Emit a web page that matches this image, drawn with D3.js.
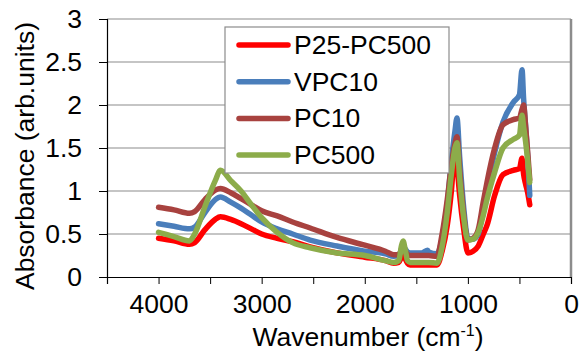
<!DOCTYPE html>
<html>
<head>
<meta charset="utf-8">
<script src="https://cdn.jsdelivr.net/npm/d3@7"></script>
<style>
  body { margin: 0; background: #fff; }
  text { font-family: "Liberation Sans", Arial, sans-serif; fill: #000; }
</style>
</head>
<body>
<script>
// wavenumbers shared by all four spectra (cm-1)
var wavenumbers = [4000, 3850, 3700, 3650, 3550, 3450, 3400, 3300, 3200, 3100, 3000, 2850, 2700, 2530, 2270, 2000, 1800, 1720, 1670, 1645, 1628, 1610, 1585, 1560, 1450, 1390, 1380, 1300, 1250, 1200, 1160, 1125, 1106, 1080, 1040, 1000, 950, 900, 850, 815, 740, 660, 560, 500, 475, 460, 440, 420, 400];

var p25pc500 = [0.45, 0.42, 0.38, 0.40, 0.55, 0.67, 0.70, 0.67, 0.62, 0.56, 0.50, 0.45, 0.41, 0.35, 0.28, 0.23, 0.19, 0.16, 0.17, 0.23, 0.27, 0.22, 0.16, 0.14, 0.14, 0.14, 0.14, 0.14, 0.30, 0.60, 1.00, 1.48, 1.30, 0.95, 0.55, 0.28, 0.30, 0.36, 0.50, 0.60, 0.95, 1.19, 1.24, 1.26, 1.38, 1.20, 1.08, 0.98, 0.84];
var vpc10 = [0.62, 0.59, 0.56, 0.58, 0.75, 0.90, 0.93, 0.87, 0.80, 0.72, 0.64, 0.56, 0.50, 0.43, 0.36, 0.30, 0.27, 0.24, 0.25, 0.32, 0.36, 0.33, 0.29, 0.28, 0.28, 0.31, 0.29, 0.27, 0.45, 0.85, 1.35, 1.70, 1.85, 1.40, 0.80, 0.45, 0.44, 0.50, 0.80, 1.03, 1.45, 1.80, 2.03, 2.12, 2.41, 2.08, 1.75, 1.40, 0.95];
var pc10 = [0.81, 0.78, 0.74, 0.76, 0.90, 1.01, 1.03, 0.98, 0.91, 0.84, 0.77, 0.71, 0.64, 0.57, 0.46, 0.37, 0.30, 0.26, 0.26, 0.32, 0.36, 0.31, 0.26, 0.25, 0.25, 0.25, 0.25, 0.24, 0.50, 0.90, 1.30, 1.55, 1.63, 1.25, 0.72, 0.43, 0.45, 0.55, 0.88, 1.10, 1.50, 1.77, 1.83, 1.85, 1.95, 2.00, 1.75, 1.45, 1.13];
var pc500 = [0.52, 0.47, 0.42, 0.50, 0.82, 1.12, 1.24, 1.12, 1.00, 0.84, 0.69, 0.52, 0.40, 0.34, 0.28, 0.25, 0.19, 0.17, 0.19, 0.36, 0.42, 0.33, 0.19, 0.17, 0.17, 0.17, 0.17, 0.16, 0.35, 0.75, 1.20, 1.50, 1.56, 1.15, 0.68, 0.43, 0.44, 0.52, 0.72, 0.90, 1.22, 1.50, 1.60, 1.65, 1.88, 1.75, 1.57, 1.35, 1.10];

var seriesNames = ['P25-PC500', 'VPC10', 'PC10', 'PC500'];
var seriesColors = ['#ff0000', '#4a7ebb', '#a8423f', '#8cac4a'];
var seriesValues = [p25pc500, vpc10, pc10, pc500];

var xTicks = [4000, 3000, 2000, 1000, 0];
var yTicks = [0, 0.5, 1, 1.5, 2, 2.5, 3];

var width = 581;
var height = 356;
// plot area edges (note: "top" is a reserved window global)
var plotL = 107, plotR = 571, plotT = 19, plotB = 277;
var fontSize = '26.5px';

var svg = d3.select('body').append('svg')
  .attr('width', width)
  .attr('height', height);

var x = d3.scaleLinear().domain([4500, 0]).range([plotL, plotR]);
var y = d3.scaleLinear().domain([0, 3]).range([plotB, plotT]);

// horizontal gridlines
svg.selectAll('.grid').data(yTicks.slice(1))
  .enter().append('line')
  .attr('x1', plotL).attr('x2', plotR)
  .attr('y1', function (d) { return y(d); })
  .attr('y2', function (d) { return y(d); })
  .attr('stroke', '#8c8c8c')
  .attr('stroke-width', 1.2);

// right border of plot area
svg.append('line')
  .attr('x1', plotR).attr('x2', plotR)
  .attr('y1', plotT).attr('y2', plotB)
  .attr('stroke', '#8c8c8c')
  .attr('stroke-width', 2.5);

// y axis
var yAxis = svg.append('g')
  .attr('transform', 'translate(' + plotL + ',0)')
  .call(d3.axisLeft(y).tickValues(yTicks).tickSize(8).tickPadding(17)
    .tickFormat(function (d) { return d; }));
yAxis.select('.domain').attr('stroke', '#000').attr('stroke-width', 1.2);
yAxis.selectAll('.tick line').attr('stroke', '#000');
yAxis.selectAll('text').style('font-size', fontSize)
  .style('font-family', '"Liberation Sans", Arial, sans-serif');

// x axis, ticks every 500, labels every 1000
var xAxis = svg.append('g')
  .attr('transform', 'translate(0,' + plotB + ')')
  .call(d3.axisBottom(x).tickValues(d3.range(4500, -1, -500)).tickSize(7).tickPadding(10)
    .tickFormat(function (d) { return xTicks.indexOf(d) >= 0 ? d : ''; }));
xAxis.select('.domain').attr('stroke', '#000').attr('stroke-width', 1.2);
xAxis.selectAll('.tick line').attr('stroke', '#000');
xAxis.selectAll('text').style('font-size', fontSize)
  .style('font-family', '"Liberation Sans", Arial, sans-serif');

// spectra
var line = d3.line()
  .x(function (d) { return x(d[0]); })
  .y(function (d) { return y(d[1]); })
  .curve(d3.curveMonotoneX);

seriesValues.forEach(function (vals, i) {
  svg.append('path')
    .datum(wavenumbers.map(function (w, j) { return [w, vals[j]]; }))
    .attr('fill', 'none')
    .attr('stroke', seriesColors[i])
    .attr('stroke-width', 5.5)
    .attr('stroke-linejoin', 'round')
    .attr('stroke-linecap', 'round')
    .attr('d', line);
});

// axis titles
var xt = svg.append('text')
  .attr('x', 368).attr('y', 346)
  .attr('text-anchor', 'middle')
  .style('font-size', fontSize)
  .text('Wavenumber (cm');
xt.append('tspan').attr('dy', -10).style('font-size', '16px').text('-1');
xt.append('tspan').attr('dy', 10).text(')');

svg.append('text')
  .attr('transform', 'translate(34,156) rotate(-90)')
  .attr('text-anchor', 'middle')
  .style('font-size', fontSize)
  .text('Absorbance (arb.units)');

// legend
var legend = svg.append('g');
legend.append('rect')
  .attr('x', 225).attr('y', 27)
  .attr('width', 224).attr('height', 146)
  .attr('fill', '#fff')
  .attr('stroke', '#8c8c8c')
  .attr('stroke-width', 1.2);

var items = legend.selectAll('.item').data(seriesNames)
  .enter().append('g')
  .attr('transform', function (d, i) { return 'translate(0,' + (45 + i * 36.7) + ')'; });
items.append('line')
  .attr('x1', 239).attr('x2', 288)
  .attr('stroke', function (d, i) { return seriesColors[i]; })
  .attr('stroke-width', 5.5)
  .attr('stroke-linecap', 'round');
items.append('text')
  .attr('x', 294).attr('y', 9)
  .style('font-size', fontSize)
  .text(function (d) { return d; });
</script>
</body>
</html>
